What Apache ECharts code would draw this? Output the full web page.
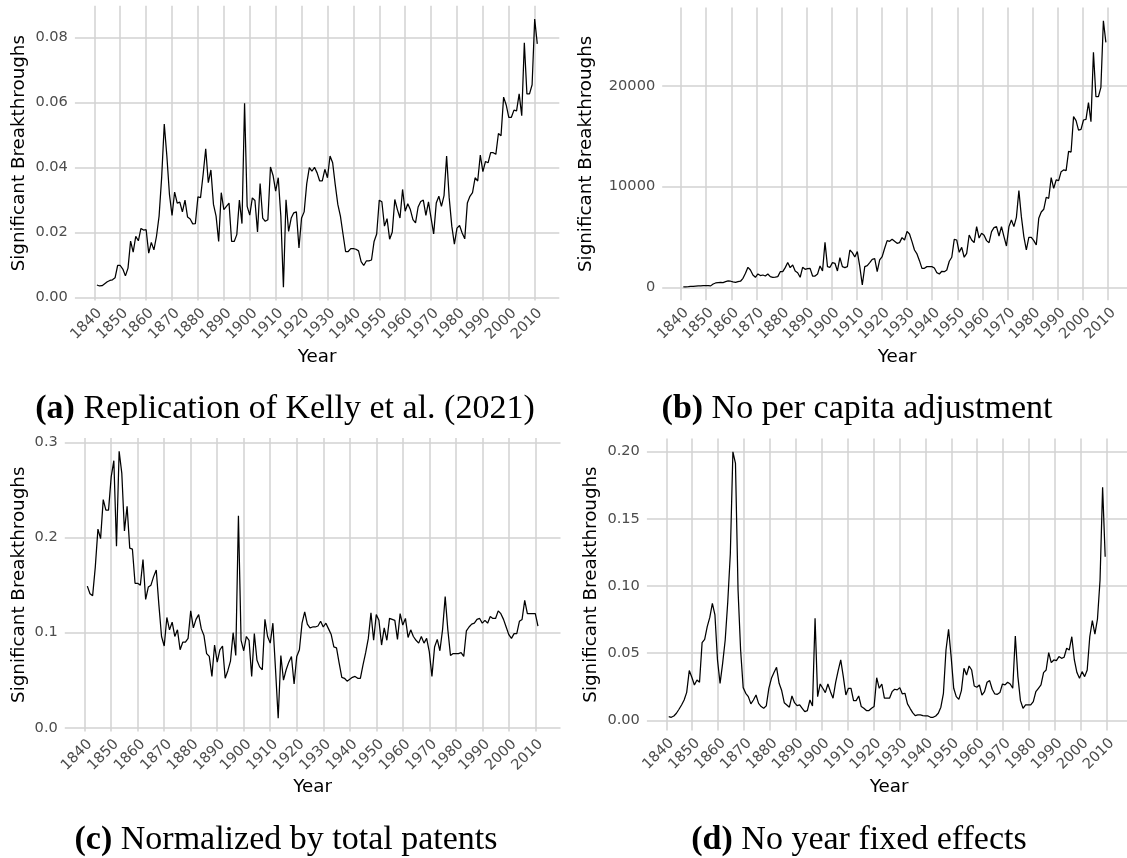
<!DOCTYPE html>
<html><head><meta charset="utf-8">
<script src="https://cdn.jsdelivr.net/npm/echarts@6/dist/echarts.min.js"></script>
<style>html,body{margin:0;padding:0;background:#fff}#c{width:1127px;height:858px}</style>
</head><body><div id="c"></div>
<script>
// ---------------- data ----------------
const years = [1841,1842,1843,1844,1845,1846,1847,1848,1849,1850,
1851,1852,1853,1854,1855,1856,1857,1858,1859,1860,
1861,1862,1863,1864,1865,1866,1867,1868,1869,1870,
1871,1872,1873,1874,1875,1876,1877,1878,1879,1880,
1881,1882,1883,1884,1885,1886,1887,1888,1889,1890,
1891,1892,1893,1894,1895,1896,1897,1898,1899,1900,
1901,1902,1903,1904,1905,1906,1907,1908,1909,1910,
1911,1912,1913,1914,1915,1916,1917,1918,1919,1920,
1921,1922,1923,1924,1925,1926,1927,1928,1929,1930,
1931,1932,1933,1934,1935,1936,1937,1938,1939,1940,
1941,1942,1943,1944,1945,1946,1947,1948,1949,1950,
1951,1952,1953,1954,1955,1956,1957,1958,1959,1960,
1961,1962,1963,1964,1965,1966,1967,1968,1969,1970,
1971,1972,1973,1974,1975,1976,1977,1978,1979,1980,
1981,1982,1983,1984,1985,1986,1987,1988,1989,1990,
1991,1992,1993,1994,1995,1996,1997,1998,1999,2000,
2001,2002,2003,2004,2005,2006,2007,2008,2009,2010,
2011];

// (a) Replication of Kelly et al. (2021)
const replication = [0.0038,0.0035,0.0036,0.0042,0.0048,0.0052,0.0054,0.0060,0.0098,0.0098,
0.0087,0.0066,0.0090,0.0173,0.0139,0.0188,0.0174,0.0212,0.0207,0.0208,
0.0136,0.0169,0.0146,0.0188,0.0250,0.0370,0.0533,0.0435,0.0317,0.0252,
0.0324,0.0290,0.0293,0.0263,0.0299,0.0247,0.0241,0.0226,0.0227,0.0309,
0.0307,0.0378,0.0457,0.0353,0.0392,0.0286,0.0250,0.0172,0.0322,0.0270,
0.0280,0.0290,0.0172,0.0172,0.0193,0.0299,0.0227,0.0597,0.0280,0.0253,
0.0306,0.0298,0.0201,0.0350,0.0244,0.0234,0.0239,0.0401,0.0375,0.0327,
0.0368,0.0250,0.0031,0.0300,0.0203,0.0244,0.0260,0.0263,0.0152,0.0244,
0.0263,0.0350,0.0399,0.0388,0.0400,0.0383,0.0358,0.0358,0.0394,0.0368,
0.0435,0.0414,0.0347,0.0286,0.0250,0.0195,0.0141,0.0141,0.0150,0.0150,
0.0148,0.0143,0.0110,0.0098,0.0112,0.0112,0.0115,0.0172,0.0195,0.0299,
0.0294,0.0219,0.0242,0.0179,0.0200,0.0301,0.0270,0.0244,0.0332,0.0265,
0.0288,0.0270,0.0239,0.0229,0.0278,0.0295,0.0299,0.0252,0.0294,0.0244,
0.0195,0.0290,0.0311,0.0280,0.0313,0.0435,0.0306,0.0219,0.0164,0.0213,
0.0221,0.0198,0.0180,0.0290,0.0311,0.0322,0.0368,0.0358,0.0438,0.0387,
0.0418,0.0414,0.0445,0.0445,0.0440,0.0504,0.0497,0.0616,0.0592,0.0554,
0.0554,0.0576,0.0574,0.0626,0.0559,0.0783,0.0626,0.0626,0.0654,0.0856,
0.0780];

// (b) No per capita adjustment
const noPerCapita = [30,50,60,80,90,110,130,150,170,170,
160,140,330,430,460,480,470,560,630,600,
530,480,560,600,890,1390,1980,1720,1220,990,
1320,1160,1220,1120,1320,1060,990,1020,1060,1550,
1550,1950,2450,1950,2220,1620,1450,990,1980,1780,
1850,1880,1120,1120,1320,2120,1620,4460,2050,1980,
2450,2380,1620,2940,2050,1950,2050,3700,3440,3000,
3540,2050,230,2050,2150,2450,2780,2840,1550,2710,
3040,3870,4630,4560,4760,4560,4360,4430,4930,4690,
5550,5290,4530,3700,3310,2640,1880,1880,2050,2050,
2050,1920,1450,1320,1590,1550,1720,2580,2980,4760,
4690,3470,3970,2980,3370,5190,4690,4430,6020,4890,
5360,5160,4630,4430,5520,5920,6020,5090,6020,5030,
4100,6020,6680,6020,6940,9590,7010,5030,3700,4960,
4960,4630,4200,6840,7470,7740,8930,8830,10880,9820,
10650,10580,11470,11640,11570,13490,13420,16930,16530,15600,
15670,16600,16660,18320,16430,23310,18910,18910,19840,26450,
24300];

// (c) Normalized by total patents
const normalized = [0.149,0.141,0.139,0.169,0.209,0.199,0.240,0.229,0.229,0.264,
0.281,0.191,0.291,0.268,0.207,0.233,0.189,0.188,0.152,0.152,
0.150,0.177,0.135,0.148,0.150,0.159,0.166,0.129,0.096,0.086,
0.116,0.103,0.111,0.096,0.103,0.082,0.090,0.090,0.094,0.123,
0.105,0.114,0.119,0.104,0.097,0.078,0.075,0.054,0.087,0.069,
0.082,0.086,0.052,0.060,0.070,0.100,0.076,0.223,0.092,0.081,
0.096,0.092,0.054,0.099,0.071,0.064,0.061,0.114,0.096,0.089,
0.110,0.061,0.010,0.076,0.050,0.061,0.069,0.075,0.046,0.075,
0.082,0.110,0.122,0.109,0.105,0.106,0.106,0.107,0.112,0.106,
0.110,0.104,0.098,0.085,0.084,0.068,0.053,0.052,0.049,0.051,
0.053,0.054,0.052,0.052,0.066,0.079,0.094,0.121,0.092,0.119,
0.113,0.087,0.105,0.092,0.115,0.114,0.113,0.093,0.120,0.108,
0.115,0.095,0.103,0.096,0.092,0.089,0.096,0.089,0.094,0.080,
0.054,0.085,0.093,0.081,0.103,0.138,0.103,0.076,0.078,0.078,
0.078,0.079,0.075,0.102,0.106,0.109,0.110,0.114,0.115,0.110,
0.113,0.110,0.117,0.115,0.115,0.123,0.120,0.114,0.106,0.098,
0.094,0.099,0.099,0.112,0.114,0.134,0.120,0.120,0.120,0.120,
0.107];

// (d) No year fixed effects
const noYearFE = [0.0027,0.0022,0.0032,0.0052,0.0082,0.0114,0.0151,0.0208,0.0370,0.0320,
0.0263,0.0300,0.0283,0.0578,0.0603,0.0697,0.0766,0.0870,0.0784,0.0449,
0.0275,0.0424,0.0598,0.0883,0.1242,0.1999,0.1912,0.0970,0.0523,0.0243,
0.0201,0.0176,0.0122,0.0151,0.0188,0.0126,0.0102,0.0089,0.0107,0.0238,
0.0312,0.0355,0.0394,0.0275,0.0221,0.0131,0.0114,0.0097,0.0181,0.0131,
0.0109,0.0114,0.0089,0.0064,0.0072,0.0151,0.0107,0.0759,0.0176,0.0270,
0.0238,0.0206,0.0270,0.0213,0.0164,0.0280,0.0370,0.0449,0.0325,0.0188,
0.0238,0.0238,0.0146,0.0146,0.0181,0.0102,0.0089,0.0072,0.0072,0.0089,
0.0102,0.0317,0.0238,0.0270,0.0164,0.0164,0.0164,0.0213,0.0231,0.0226,
0.0243,0.0196,0.0201,0.0122,0.0089,0.0057,0.0035,0.0040,0.0040,0.0035,
0.0032,0.0032,0.0022,0.0022,0.0032,0.0052,0.0097,0.0201,0.0523,0.0677,
0.0474,0.0238,0.0176,0.0156,0.0221,0.0387,0.0337,0.0404,0.0374,0.0255,
0.0246,0.0263,0.0188,0.0213,0.0283,0.0295,0.0231,0.0196,0.0193,0.0206,
0.0270,0.0263,0.0283,0.0270,0.0238,0.0627,0.0325,0.0146,0.0089,0.0114,
0.0114,0.0114,0.0139,0.0213,0.0238,0.0263,0.0355,0.0374,0.0503,0.0429,
0.0449,0.0444,0.0474,0.0461,0.0469,0.0536,0.0523,0.0622,0.0449,0.0355,
0.0312,0.0362,0.0325,0.0374,0.0622,0.0742,0.0642,0.0754,0.1044,0.1734,
0.1218];

// tick labels
const xTickStart = 1840, xTickEnd = 2010, xTickStep = 10;
const yTicksA = [0, 0.08, 0.02];
const yTicksB = [0, 20000, 10000];
const yTicksC = [0, 0.3, 0.1];
const yTicksD = [0, 0.2, 0.05];

const captions = [
  ['(a)', ' Replication of Kelly et al. (2021)'],
  ['(b)', ' No per capita adjustment'],
  ['(c)', ' Normalized by total patents'],
  ['(d)', ' No year fixed effects']
];
const yTitle = 'Significant Breakthroughs';
const xTitle = 'Year';

// ---------------- layout ----------------
const GRID = '#d2d2d2', TICK = '#4d4d4d';
const TICK_FONT = 14.6, TITLE_FONT = 18.3, CAP_FONT = 34;
const panels = [
  {data: replication, left:74.9, top:5.8, width:484.4, height:294.8, yMin:-0.001, yMax:0.0897, ticks:yTicksA, dec:2,
   yTitleX:19.7, xTitleY:357, capX:285, capY:409},
  {data: noPerCapita, left:662.2, top:7.4, width:469.7, height:292.9, yMin:-1291, yMax:27771, ticks:yTicksB, dec:0,
   yTitleX:586, xTitleY:357, capX:857, capY:409},
  {data: normalized, left:64.8, top:437.9, width:495.7, height:293.7, yMin:-0.0041, yMax:0.305, ticks:yTicksC, dec:1,
   yTitleX:19.5, xTitleY:787, capX:286, capY:840},
  {data: noYearFE, left:646.9, top:438.5, width:484.4, height:292.1, yMin:-0.0077, yMax:0.2098, ticks:yTicksD, dec:2,
   yTitleX:591.7, xTitleY:787, capX:859, capY:840}
];
const X_MIN = 1832.5, X_MAX = 2019.5;

const grid = [], xAxis = [], yAxis = [], series = [], graphic = [];
panels.forEach((p, i) => {
  const xpix = v => p.left + (v - X_MIN) / (X_MAX - X_MIN) * p.width;
  const ypix = v => p.top + (p.yMax - v) / (p.yMax - p.yMin) * p.height;
  const [tMin, tMax, tStep] = p.ticks;
  grid.push({left:p.left, top:p.top, width:p.width, height:p.height});
  grid.push({left:p.left, width:p.width, top:ypix(tMax), height:ypix(tMin) - ypix(tMax)});
  grid.push({left:xpix(xTickStart), width:xpix(xTickEnd) - xpix(xTickStart), top:p.top, height:p.height});
  const g = 3 * i;
  xAxis.push({gridIndex:g, type:'value', min:X_MIN, max:X_MAX, show:false});
  yAxis.push({gridIndex:g, type:'value', min:p.yMin, max:p.yMax, show:false});
  xAxis.push({gridIndex:g+1, type:'value', min:0, max:1, show:false});
  yAxis.push({gridIndex:g+1, type:'value', min:tMin, max:tMax, interval:tStep,
    axisLine:{show:false}, axisTick:{show:false},
    splitLine:{show:true, lineStyle:{color:GRID, width:1.5}},
    axisLabel:{margin:7, color:TICK, fontSize:TICK_FONT, fontFamily:'DejaVu Sans',
      showMinLabel:true, showMaxLabel:true, formatter: v => v.toFixed(p.dec)}});
  xAxis.push({gridIndex:g+2, type:'value', min:xTickStart, max:xTickEnd, interval:xTickStep,
    axisLine:{show:false}, axisTick:{show:false},
    splitLine:{show:true, lineStyle:{color:GRID, width:1.5}},
    axisLabel:{rotate:45, margin:5, verticalAlign:'top', color:TICK, fontSize:TICK_FONT, fontFamily:'DejaVu Sans',
      showMinLabel:true, showMaxLabel:true, formatter: v => String(v)}});
  yAxis.push({gridIndex:g+2, type:'value', min:0, max:1, show:false});
  series.push({type:'line', xAxisIndex:g, yAxisIndex:g, symbol:'none', showSymbol:false, silent:true, z:10,
    lineStyle:{color:'#000', width:1.25}, data: years.map((y, k) => [y, p.data[k]])});
  graphic.push({type:'text', x:p.yTitleX, y:p.top + p.height / 2, rotation:Math.PI / 2,
    style:{text:yTitle, fontSize:TITLE_FONT, fontFamily:'DejaVu Sans', fill:'#000', align:'center', verticalAlign:'middle'}});
  graphic.push({type:'text', x:p.left + p.width / 2, y:p.xTitleY,
    style:{text:xTitle, fontSize:TITLE_FONT, fontFamily:'DejaVu Sans', fill:'#000', align:'center', verticalAlign:'middle'}});
  graphic.push({type:'text', x:p.capX, y:p.capY,
    style:{text:'{b|' + captions[i][0] + '}{n|' + captions[i][1] + '}', align:'center', verticalAlign:'middle',
      fontSize:CAP_FONT, fontFamily:'Liberation Serif', fill:'#000',
      rich:{b:{fontSize:CAP_FONT, fontFamily:'Liberation Serif', fontWeight:'bold', fill:'#000'},
            n:{fontSize:CAP_FONT, fontFamily:'Liberation Serif', fill:'#000'}}}});
});

const chart = echarts.init(document.getElementById('c'), null, {renderer:'canvas'});
chart.setOption({animation:false, backgroundColor:'#fff', grid, xAxis, yAxis, series, graphic});
</script></body></html>
